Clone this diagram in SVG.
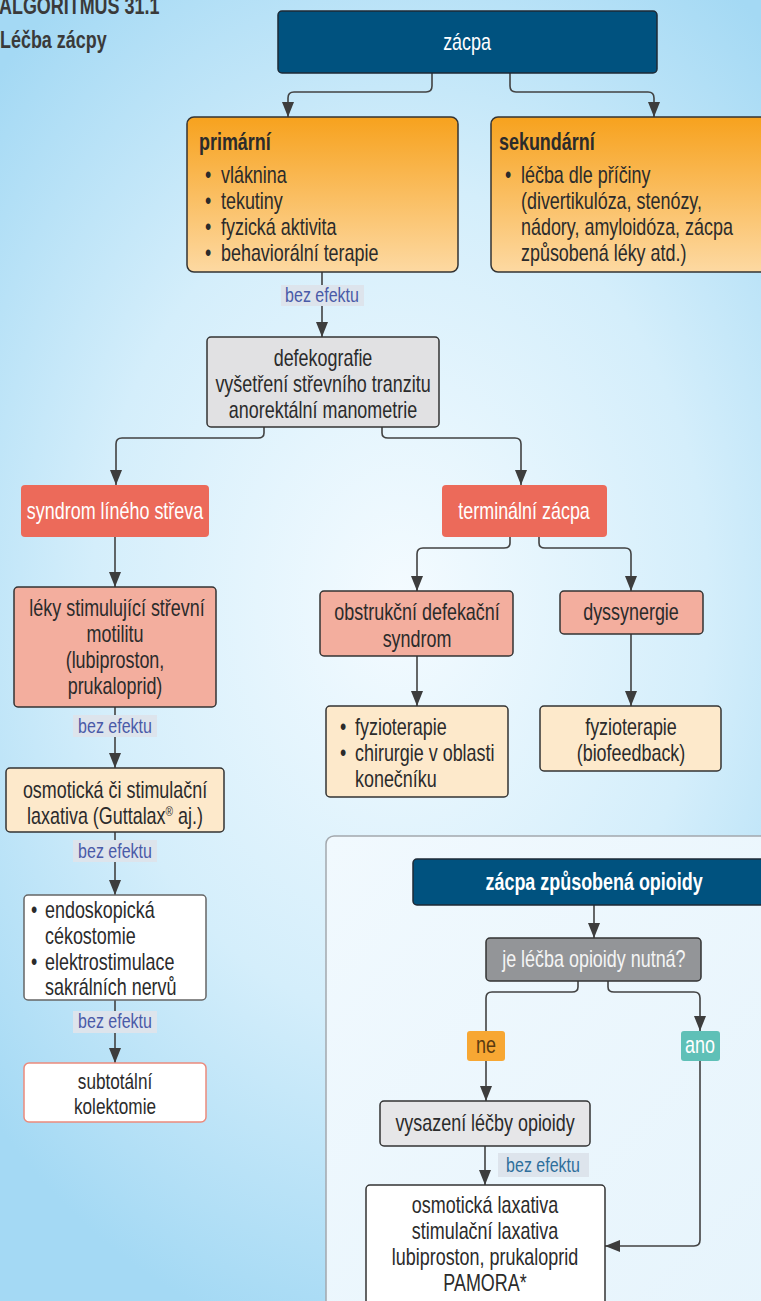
<svg xmlns="http://www.w3.org/2000/svg" width="761" height="1301" viewBox="0 0 761 1301">
<defs>
<radialGradient id="bg" gradientUnits="userSpaceOnUse" cx="400" cy="600" r="560" gradientTransform="translate(400 600) scale(1 1.35) translate(-400 -600)">
<stop offset="0" stop-color="#f4fbff"/>
<stop offset="0.55" stop-color="#d4eefb"/>
<stop offset="1" stop-color="#a4d9f4"/>
</radialGradient>
<linearGradient id="orange" x1="0" y1="0" x2="0" y2="1">
<stop offset="0" stop-color="#f7a21e"/>
<stop offset="1" stop-color="#fdd9a2"/>
</linearGradient>
<linearGradient id="panel" x1="0" y1="0" x2="1" y2="1">
<stop offset="0" stop-color="#f1f9fe"/>
<stop offset="1" stop-color="#e6f4fc"/>
</linearGradient>
<marker id="arr" viewBox="0 0 15 12" refX="15" refY="6" markerWidth="15" markerHeight="12" markerUnits="userSpaceOnUse" orient="auto">
<path d="M0,0 L15,6 L0,12 Z" fill="#3d3d3d"/>
</marker>
<style>
text{font-family:"Liberation Sans",Arial,sans-serif;font-size:23px;fill:#2b2b2b;transform-box:fill-box;transform-origin:left center;transform:scaleX(0.78)}
.c{text-anchor:middle;transform-origin:center}
.b{font-weight:bold}
.w{fill:#ffffff}
.con{fill:none;stroke:#424242;stroke-width:1.6}
.be{fill:#dde4ec}
.bt{fill:#4a5aa8;font-size:20.5px;text-anchor:middle;transform-origin:center}
.bt2{fill:#2f6f9c;font-size:20.5px;text-anchor:middle;transform-origin:center}
.dark{fill:#00527f;stroke:#1e2a36;stroke-width:1.5}
.red{fill:#ec6a5a}
.sal{fill:#f3ae9e;stroke:#333;stroke-width:1.5}
.cream{fill:#fde9cb;stroke:#333;stroke-width:1.5}
.grey{fill:#e1e1e3;stroke:#333;stroke-width:1.5}
.white{fill:#ffffff;stroke:#333;stroke-width:1.5}
</style>
</defs>
<rect x="0" y="0" width="761" height="1301" fill="url(#bg)"/>

<g id="title">
<text x="-1" y="14" class="b" style="fill:#3a3a3a">ALGORITMUS 31.1</text>
<text x="0" y="48" class="b" style="fill:#3a3a3a">Léčba zácpy</text>
</g>

<g id="opioid-panel">
<rect x="326" y="836" width="450" height="480" rx="8" fill="url(#panel)" stroke="#a3a8ad" stroke-width="1.5"/>
</g>

<g id="connectors">
<path class="con" d="M432,73 V86 Q432,92 426,92 H294 Q288,92 288,98 V117" marker-end="url(#arr)"/>
<path class="con" d="M510,73 V86 Q510,92 516,92 H648 Q654,92 654,98 V117" marker-end="url(#arr)"/>
<path class="con" d="M322,272 V337" marker-end="url(#arr)"/>
<path class="con" d="M264,427 V433 Q264,438 258,438 H122 Q116,438 116,444 V485" marker-end="url(#arr)"/>
<path class="con" d="M382,427 V433 Q382,438 388,438 H515 Q521,438 521,444 V485" marker-end="url(#arr)"/>
<path class="con" d="M115,537 V587" marker-end="url(#arr)"/>
<path class="con" d="M115,707 V768" marker-end="url(#arr)"/>
<path class="con" d="M115,832 V895" marker-end="url(#arr)"/>
<path class="con" d="M115,1000 V1063" marker-end="url(#arr)"/>
<path class="con" d="M510,537 V543 Q510,548 504,548 H423 Q417,548 417,554 V591" marker-end="url(#arr)"/>
<path class="con" d="M539,537 V543 Q539,548 545,548 H625 Q631,548 631,554 V591" marker-end="url(#arr)"/>
<path class="con" d="M417,656 V706" marker-end="url(#arr)"/>
<path class="con" d="M631,634 V706" marker-end="url(#arr)"/>
<path class="con" d="M594,905 V938" marker-end="url(#arr)"/>
<path class="con" d="M578,981 V987 Q578,992 572,992 H492 Q486,992 486,998 V1031"/>
<path class="con" d="M486,1061 V1101" marker-end="url(#arr)"/>
<path class="con" d="M608,981 V987 Q608,992 614,992 H694 Q700,992 700,998 V1031" marker-end="url(#arr)"/>
<path class="con" d="M700,1061 V1240 Q700,1246 694,1246 H605" marker-end="url(#arr)"/>
<path class="con" d="M485,1146 V1185" marker-end="url(#arr)"/>
</g>

<g id="label-bez-efektu-1">
<rect class="be" x="281" y="285" width="83" height="21"/>
<text class="bt" x="322" y="302">bez efektu</text>
</g>
<g id="label-bez-efektu-2">
<rect class="be" x="73" y="715" width="84" height="22"/>
<text class="bt" x="115" y="733">bez efektu</text>
</g>
<g id="label-bez-efektu-3">
<rect class="be" x="73" y="840" width="84" height="22"/>
<text class="bt" x="115" y="858">bez efektu</text>
</g>
<g id="label-bez-efektu-4">
<rect class="be" x="73" y="1011" width="84" height="22"/>
<text class="bt" x="115" y="1028">bez efektu</text>
</g>
<g id="label-bez-efektu-5">
<rect class="be" x="498" y="1153" width="91" height="24"/>
<text class="bt2" x="543" y="1172">bez efektu</text>
</g>

<g id="node-zacpa">
<rect class="dark" x="278" y="11" width="379" height="62" rx="4"/>
<text class="c w" x="467" y="50">zácpa</text>
</g>

<g id="node-primarni">
<rect x="187" y="117" width="271" height="155" rx="7" fill="url(#orange)" stroke="#333" stroke-width="1.5"/>
<text class="b" x="199" y="150">primární</text>
<text x="205" y="183">•</text><text x="221" y="183">vláknina</text>
<text x="205" y="209">•</text><text x="221" y="209">tekutiny</text>
<text x="205" y="235">•</text><text x="221" y="235">fyzická aktivita</text>
<text x="205" y="261">•</text><text x="221" y="261">behaviorální terapie</text>
</g>

<g id="node-sekundarni">
<rect x="491" y="117" width="278" height="155" rx="7" fill="url(#orange)" stroke="#333" stroke-width="1.5"/>
<text class="b" x="499" y="150">sekundární</text>
<text x="505" y="183">•</text><text x="521" y="183">léčba dle příčiny</text>
<text x="521" y="209">(divertikulóza, stenózy,</text>
<text x="521" y="235">nádory, amyloidóza, zácpa</text>
<text x="521" y="261">způsobená léky atd.)</text>
</g>

<g id="node-defekografie">
<rect class="grey" x="207" y="337" width="232" height="90" rx="4"/>
<text class="c" x="323" y="366">defekografie</text>
<text class="c" x="323" y="392">vyšetření střevního tranzitu</text>
<text class="c" x="323" y="418">anorektální manometrie</text>
</g>

<g id="node-syndrom">
<rect class="red" x="21" y="485" width="188" height="52" rx="4"/>
<text class="c w" x="115" y="519">syndrom líného střeva</text>
</g>

<g id="node-terminalni">
<rect class="red" x="442" y="485" width="165" height="52" rx="4"/>
<text class="c w" x="524" y="519">terminální zácpa</text>
</g>

<g id="node-leky">
<rect class="sal" x="14" y="587" width="202" height="120" rx="4"/>
<text class="c" x="117" y="616">léky stimulující střevní</text>
<text class="c" x="115" y="642">motilitu</text>
<text class="c" x="115" y="668">(lubiproston,</text>
<text class="c" x="115" y="694">prukaloprid)</text>
</g>

<g id="node-osmoticka">
<rect class="cream" x="6" y="768" width="218" height="64" rx="4"/>
<text class="c" x="115" y="798">osmotická či stimulační</text>
<text class="c" x="115" y="824">laxativa (Guttalax<tspan dy="-8" style="font-size:13px">®</tspan><tspan dy="8"> aj.)</tspan></text>
</g>

<g id="node-endoskopicka">
<rect x="24" y="895" width="182" height="105" rx="4" fill="#ffffff" stroke="#666" stroke-width="1.5"/>
<text x="31" y="918">•</text><text x="45" y="918">endoskopická</text>
<text x="45" y="944">cékostomie</text>
<text x="31" y="970">•</text><text x="45" y="970">elektrostimulace</text>
<text x="45" y="995">sakrálních nervů</text>
</g>

<g id="node-subtotalni">
<rect x="24" y="1063" width="182" height="59" rx="5" fill="#ffffff" stroke="#ec8a7c" stroke-width="1.5"/>
<text class="c" x="115" y="1089" style="font-size:22px">subtotální</text>
<text class="c" x="115" y="1114" style="font-size:22px">kolektomie</text>
</g>

<g id="node-obstrukcni">
<rect class="sal" x="320" y="591" width="193" height="65" rx="4"/>
<text class="c" x="417" y="620">obstrukční defekační</text>
<text class="c" x="417" y="647">syndrom</text>
</g>

<g id="node-dyssynergie">
<rect class="sal" x="560" y="591" width="143" height="43" rx="4"/>
<text class="c" x="631" y="620">dyssynergie</text>
</g>

<g id="node-fyzio1">
<rect class="cream" x="326" y="706" width="182" height="91" rx="4"/>
<text x="340" y="735">•</text><text x="355" y="735">fyzioterapie</text>
<text x="340" y="761">•</text><text x="355" y="761">chirurgie v oblasti</text>
<text x="355" y="787">konečníku</text>
</g>

<g id="node-fyzio2">
<rect class="cream" x="540" y="706" width="181" height="65" rx="4"/>
<text class="c" x="631" y="735">fyzioterapie</text>
<text class="c" x="631" y="761">(biofeedback)</text>
</g>

<g id="node-opioidy">
<rect class="dark" x="413" y="859" width="360" height="46" rx="4"/>
<text class="c w b" x="594" y="890">zácpa způsobená opioidy</text>
</g>

<g id="node-nutna">
<rect x="486" y="938" width="215" height="43" rx="4" fill="#939598" stroke="#333" stroke-width="1.5"/>
<text class="c" x="594" y="967" style="fill:#f4f4f4">je léčba opioidy nutná?</text>
</g>

<g id="label-ne">
<rect x="467" y="1031" width="38" height="30" rx="3" fill="#f7a733"/>
<text class="c" x="486" y="1053" style="fill:#5a3a10">ne</text>
</g>

<g id="label-ano">
<rect x="681" y="1031" width="39" height="30" rx="3" fill="#5fc0b7"/>
<text class="c w" x="700" y="1053">ano</text>
</g>

<g id="node-vysazeni">
<rect class="grey" x="380" y="1101" width="210" height="45" rx="4" style="fill:#e6e6e8"/>
<text class="c" x="485" y="1131">vysazení léčby opioidy</text>
</g>

<g id="node-laxativa">
<rect class="white" x="366" y="1185" width="239" height="130" rx="4"/>
<text class="c" x="485" y="1213">osmotická laxativa</text>
<text class="c" x="485" y="1239">stimulační laxativa</text>
<text class="c" x="485" y="1265">lubiproston, prukaloprid</text>
<text class="c" x="485" y="1291">PAMORA*</text>
</g>
</svg>
